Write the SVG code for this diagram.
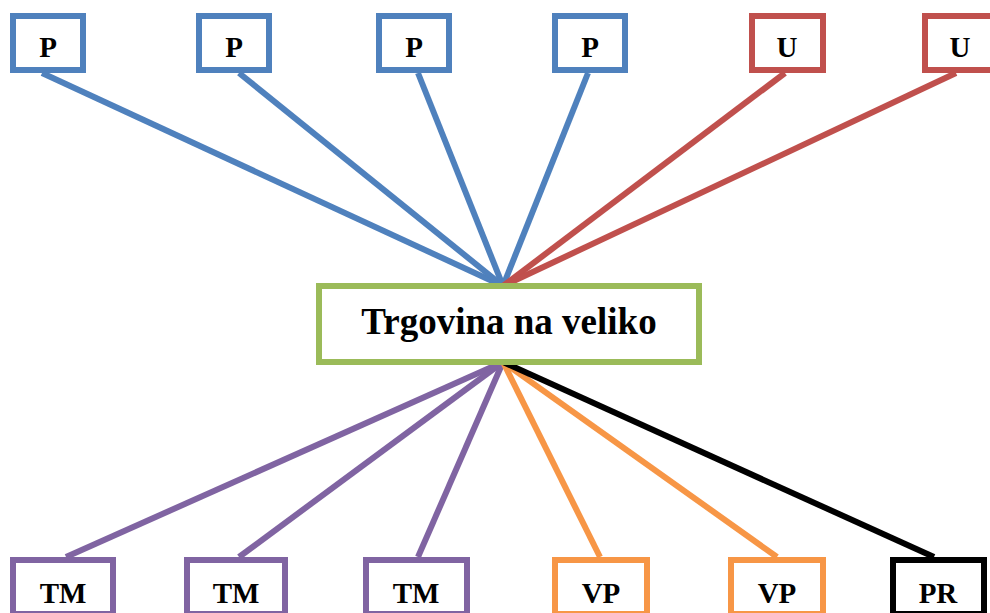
<svg xmlns="http://www.w3.org/2000/svg" width="990" height="613" viewBox="0 0 990 613">
<style>
.box{fill:#fff;stroke-width:6}
.lbl{font-family:"Liberation Serif","Times New Roman",serif;font-weight:bold;font-size:29px;text-anchor:middle;fill:#000}
.ttl{font-size:37px}
.c line{stroke-width:6;fill:none}
.blue{stroke:#4F81BD}.red{stroke:#C0504D}.green{stroke:#9BBB59}.purple{stroke:#8064A2}.orange{stroke:#F79646}.black{stroke:#000}
</style>
<rect width="990" height="613" fill="#fff"/>
<g id="connectors" class="c">
<line class="blue" x1="42" y1="73" x2="503" y2="286"/>
<line class="blue" x1="239" y1="73" x2="503" y2="286"/>
<line class="blue" x1="418" y1="73" x2="503" y2="286"/>
<line class="blue" x1="588" y1="73" x2="503" y2="286"/>
<line class="red" x1="785" y1="73" x2="503" y2="286"/>
<line class="red" x1="956" y1="73" x2="503" y2="286"/>
<line class="purple" x1="66" y1="557" x2="503" y2="362"/>
<line class="purple" x1="239" y1="557" x2="503" y2="362"/>
<line class="purple" x1="418" y1="557" x2="503" y2="362"/>
<line class="orange" x1="600" y1="557" x2="503" y2="362"/>
<line class="orange" x1="777" y1="557" x2="503" y2="362"/>
<line class="black" x1="934" y1="557" x2="503" y2="362"/>
</g>
<g id="center"><rect class="box green" x="319" y="286" width="380" height="76"/><text class="lbl ttl" x="509" y="334">Trgovina na veliko</text></g>
<g id="p1"><rect class="box blue" x="13" y="16" width="70" height="54"/><text class="lbl" x="48" y="57">P</text></g>
<g id="p2"><rect class="box blue" x="199" y="16" width="70" height="54"/><text class="lbl" x="234" y="57">P</text></g>
<g id="p3"><rect class="box blue" x="379" y="16" width="70" height="54"/><text class="lbl" x="414" y="57">P</text></g>
<g id="p4"><rect class="box blue" x="555" y="16" width="70" height="54"/><text class="lbl" x="590" y="57">P</text></g>
<g id="u1"><rect class="box red" x="752" y="16" width="71" height="54"/><text class="lbl" x="787" y="57">U</text></g>
<g id="u2"><rect class="box red" x="925" y="16" width="70" height="54"/><text class="lbl" x="960" y="57">U</text></g>
<g id="tm1"><rect class="box purple" x="13" y="560" width="100" height="54"/><text class="lbl" x="63" y="603">TM</text></g>
<g id="tm2"><rect class="box purple" x="187" y="560" width="98" height="54"/><text class="lbl" x="236" y="603">TM</text></g>
<g id="tm3"><rect class="box purple" x="366" y="560" width="101" height="54"/><text class="lbl" x="416" y="603">TM</text></g>
<g id="vp1"><rect class="box orange" x="555" y="560" width="92" height="54"/><text class="lbl" x="601" y="603">VP</text></g>
<g id="vp2"><rect class="box orange" x="731" y="560" width="92" height="54"/><text class="lbl" x="777" y="603">VP</text></g>
<g id="pr"><rect class="box black" x="893" y="560" width="91" height="54"/><text class="lbl" x="938" y="603">PR</text></g>
</svg>
